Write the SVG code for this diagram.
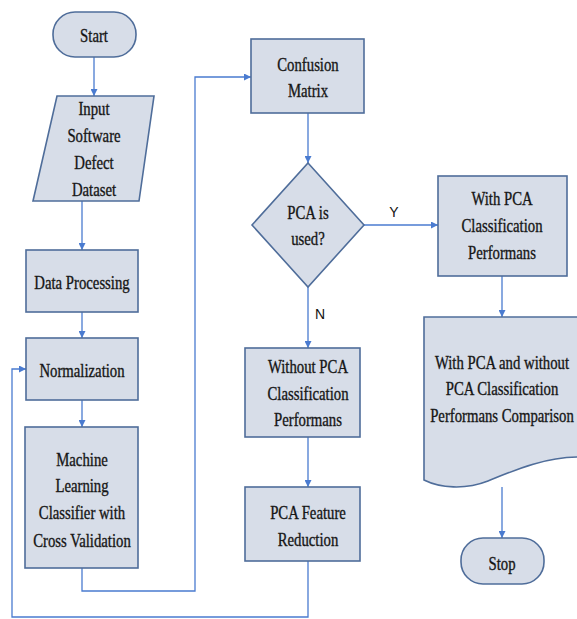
<svg xmlns="http://www.w3.org/2000/svg" width="577" height="619" viewBox="0 0 577 619">
<defs>
<marker id="ah" viewBox="0 0 8 8" refX="8" refY="4" markerWidth="7" markerHeight="7" markerUnits="userSpaceOnUse" orient="auto">
<path d="M0,0 L8,4 L0,8 Z" fill="#4a7bd0"/>
</marker>
<style>
.s{fill:#d7dde8;stroke:#4f6d9a;stroke-width:1.6}
.c{fill:none;stroke:#4a7bd0;stroke-width:1.3;marker-end:url(#ah)}
.t{font-family:"Liberation Serif","Times New Roman",serif;font-size:18px;fill:#111;stroke:#222;stroke-width:0.35;text-anchor:middle}
.l{font-family:"Liberation Sans",Arial,sans-serif;font-size:14px;fill:#111;text-anchor:middle}
</style>
</defs>
<rect width="577" height="619" fill="#fff"/>
<g id="connectors">
<path class="c" d="M94,57 V96"/>
<path class="c" d="M82,201 V250"/>
<path class="c" d="M82,312 V338"/>
<path class="c" d="M82,400 V427"/>
<path class="c" d="M82,568 V591 H195 V77 H251"/>
<path class="c" d="M308,113 V163"/>
<path class="c" d="M364,225 H438"/>
<path class="c" d="M308,287 V348"/>
<path class="c" d="M308,437 V487"/>
<path class="c" d="M308,561 V617 H12 V369 H26"/>
<path class="c" d="M502,276 V317"/>
<path class="c" d="M502,487 V538"/>
<text class="l" x="394" y="217">Y</text>
<text class="l" x="320" y="319">N</text>
</g>
<g id="start">
<rect class="s" x="53" y="12" width="83" height="45" rx="22"/>
<text class="t" transform="translate(94,0) scale(0.82,1)"><tspan x="0" y="42">Start</tspan></text>
</g>
<g id="input">
<path class="s" d="M57,96 H154 L139,201 H33 Z"/>
<text class="t" transform="translate(94,0) scale(0.82,1)"><tspan x="0" y="115">Input</tspan><tspan x="0" y="142">Software</tspan><tspan x="0" y="169">Defect</tspan><tspan x="0" y="196">Dataset</tspan></text>
</g>
<g id="dataprocessing">
<rect class="s" x="26" y="250" width="112" height="62"/>
<text class="t" transform="translate(82,0) scale(0.82,1)"><tspan x="0" y="289">Data Processing</tspan></text>
</g>
<g id="normalization">
<rect class="s" x="26" y="338" width="112" height="62"/>
<text class="t" transform="translate(82,0) scale(0.82,1)"><tspan x="0" y="377">Normalization</tspan></text>
</g>
<g id="ml">
<rect class="s" x="25" y="427" width="113" height="141"/>
<text class="t" transform="translate(82,0) scale(0.82,1)"><tspan x="0" y="466">Machine</tspan><tspan x="0" y="492">Learning</tspan><tspan x="0" y="519">Classifier with</tspan><tspan x="0" y="547">Cross Validation</tspan></text>
</g>
<g id="confusion">
<rect class="s" x="251" y="39" width="113" height="74"/>
<text class="t" transform="translate(308,0) scale(0.82,1)"><tspan x="0" y="71">Confusion</tspan><tspan x="0" y="97">Matrix</tspan></text>
</g>
<g id="decision">
<path class="s" d="M308,163 L364,225 L308,287 L252,225 Z"/>
<text class="t" transform="translate(308,0) scale(0.82,1)"><tspan x="0" y="219">PCA is</tspan><tspan x="0" y="245">used?</tspan></text>
</g>
<g id="withpca">
<rect class="s" x="438" y="176" width="129" height="100"/>
<text class="t" transform="translate(502,0) scale(0.82,1)"><tspan x="0" y="205">With PCA</tspan><tspan x="0" y="232">Classification</tspan><tspan x="0" y="259">Performans</tspan></text>
</g>
<g id="withoutpca">
<rect class="s" x="245" y="348" width="115" height="89"/>
<text class="t" transform="translate(308,0) scale(0.82,1)"><tspan x="0" y="373">Without PCA</tspan><tspan x="0" y="400">Classification</tspan><tspan x="0" y="426">Performans</tspan></text>
</g>
<g id="pcafeature">
<rect class="s" x="245" y="487" width="115" height="74"/>
<text class="t" transform="translate(308,0) scale(0.82,1)"><tspan x="0" y="519">PCA Feature</tspan><tspan x="0" y="546">Reduction</tspan></text>
</g>
<g id="comparison">
<path class="s" d="M424,317 H579 V457 C545,457 515,470 488,481 C465,490 440,488 424,480 Z"/>
<text class="t" transform="translate(502,0) scale(0.82,1)"><tspan x="0" y="369">With PCA and without</tspan><tspan x="0" y="395">PCA Classification</tspan><tspan x="0" y="422">Performans Comparison</tspan></text>
</g>
<g id="stop">
<rect class="s" x="461" y="538" width="83" height="46" rx="22"/>
<text class="t" transform="translate(502,0) scale(0.82,1)"><tspan x="0" y="570">Stop</tspan></text>
</g>
</svg>
